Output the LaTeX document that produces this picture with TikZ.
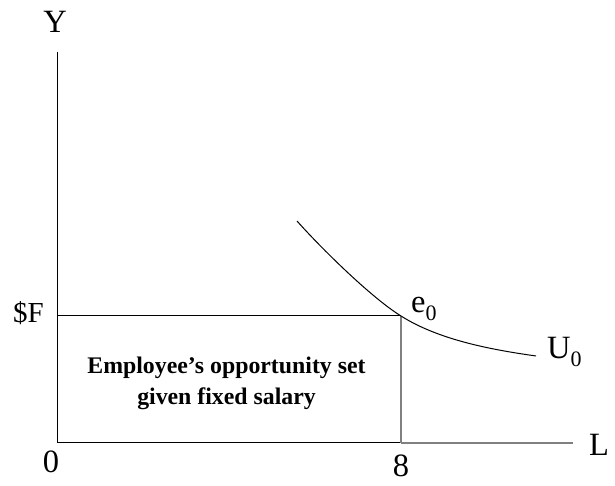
\documentclass[tikz,border=0pt]{standalone}
\usepackage{fontspec}
\setmainfont{Liberation Serif}
\begin{document}
\begin{tikzpicture}[x=1pt,y=1pt,
  lbl/.style={inner sep=0pt,font=\fontsize{32.5}{38}\selectfont},
  smalllbl/.style={inner sep=0pt,font=\fontsize{29}{34}\selectfont},
  ax/.style={line width=1pt,black},
  grayline/.style={line width=1.3pt,black!50},
  curveline/.style={line width=1pt,black},
  body/.style={inner sep=0pt,align=center,font=\fontsize{23.8}{31}\selectfont\bfseries}]
\useasboundingbox (0,0) rectangle (615,486);
\coordinate (O) at (57,43);
\coordinate (ytop) at (57,434);
\coordinate (xend) at (573,43);
\coordinate (e) at (401,170);
\coordinate (F) at (57,170);
\coordinate (b8) at (401,43);
\coordinate (cs) at (297,265);
\coordinate (ce) at (536,130);
\draw[ax] (ytop) -- (O) -- (b8);
\draw[grayline] (b8) -- (xend);
\draw[grayline] (e) -- (b8);
\draw[ax] (F) -- (e);
\draw[curveline] (cs) .. controls (320,239) and (371,188.5) .. (e)
  .. controls (439,146) and (491.4,136.3) .. (ce);
\node[lbl,anchor=base] (ylab) at (55,453) {Y};
\node[lbl,anchor=base west] (llab) at (589,30) {L};
\node[lbl,anchor=base] (zero) at (51,13) {0};
\node[lbl,anchor=base] (eight) at (401,9) {8};
\node[smalllbl,anchor=base east] (flab) at (44,163) {\$F};
\node[lbl,anchor=base west] (elab) at (411,173) {e\raisebox{-0.22em}{\fontsize{22}{24}\selectfont 0}};
\node[lbl,anchor=base west] (ulab) at (547,127) {U\raisebox{-0.22em}{\fontsize{22}{24}\selectfont 0}};
\node[body] (txt) at (226.5,102.5) {Employee’s opportunity set\\given fixed salary};
\end{tikzpicture}
\end{document}
